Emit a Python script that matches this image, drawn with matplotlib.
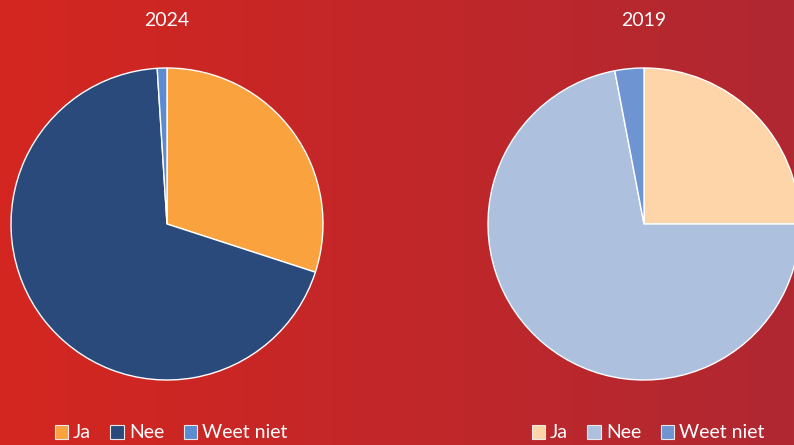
import matplotlib.pyplot as plt
import matplotlib.patches as mpatches
import numpy as np

plt.rcParams['font.family'] = ['Lato', 'DejaVu Sans']

labels = ['Ja', 'Nee', 'Weet niet']
years = ['2024', '2019']
vals_2024 = [30, 69, 1]
vals_2019 = [25, 72, 3]
colors_2024 = ['#f9a23e', '#2a4a7c', '#5b8bd0']
colors_2019 = ['#fdd5a8', '#adc0dd', '#6e94d2']

W, H = 794, 445
fig = plt.figure(figsize=(W / 100, H / 100), dpi=100)

# gradient background
bg = fig.add_axes([0, 0, 1, 1])
left_c = np.array([212, 38, 32]) / 255
right_c = np.array([176, 40, 50]) / 255
t = np.linspace(0, 1, 400)[None, :, None]
grad = left_c * (1 - t) + right_c * t
bg.imshow(grad, aspect='auto', extent=[0, 1, 0, 1])
bg.axis('off')

def px_axes(cx, cy, r):
    return fig.add_axes([(cx - r) / W, (H - cy - r) / H, 2 * r / W, 2 * r / H])

pies = [(167, vals_2024, colors_2024, years[0]), (644, vals_2019, colors_2019, years[1])]
for cx, vals, cols, yr in pies:
    ax = px_axes(cx, 224, 156)
    ax.pie(vals, colors=cols, startangle=90, counterclock=False, radius=1,
           wedgeprops=dict(edgecolor='white', linewidth=1))
    ax.set_xlim(-1, 1)
    ax.set_ylim(-1, 1)
    ax.set_aspect('equal')
    ax.axis('off')
    fig.text(cx / W, 1 - 20 / H, yr, color='white', fontsize=14, ha='center', va='center')
    handles = [mpatches.Patch(facecolor=c, edgecolor='#e8e8e8', linewidth=0.8, label=l)
               for c, l in zip(cols, labels)]
    fig.legend(handles=handles, loc='center', bbox_to_anchor=((cx + 4) / W, 1 - 433 / H),
               ncol=3, frameon=False, fontsize=14, labelcolor='white',
               handlelength=0.7, handleheight=0.7, handletextpad=0.25, columnspacing=1.0,
               borderaxespad=0, borderpad=0)

fig.savefig('out.png', dpi=100)
